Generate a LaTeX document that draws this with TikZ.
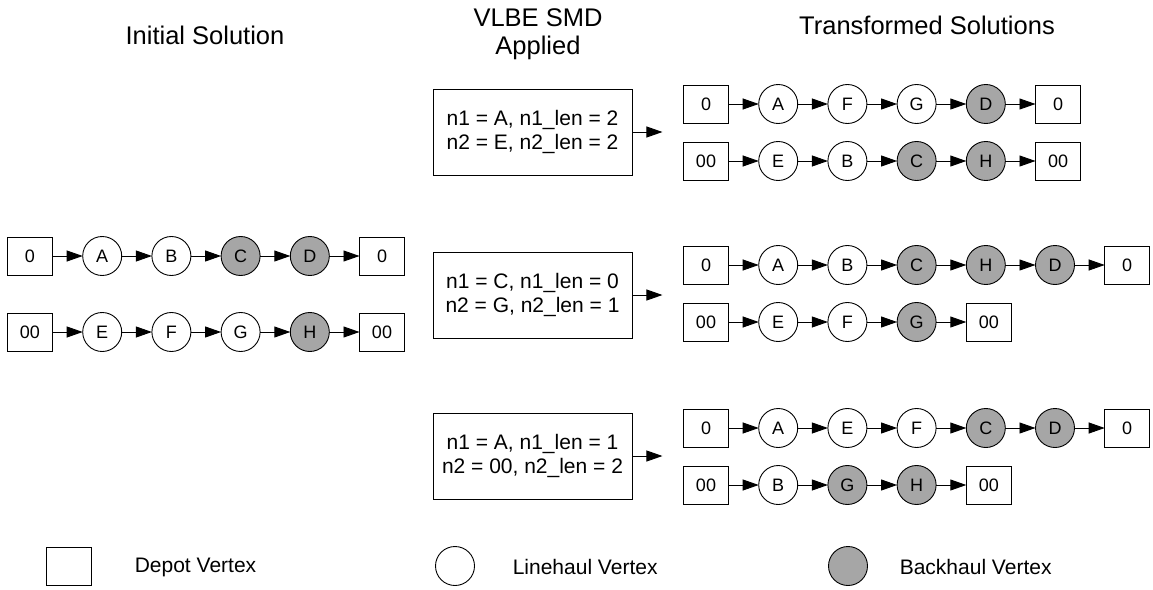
\documentclass[tikz,border=0pt]{standalone}
\usepackage{fontspec}
\setmainfont{Liberation Sans}
\usetikzlibrary{arrows.meta,positioning}
\definecolor{backgray}{RGB}{166,166,166}

\begin{document}
\begin{tikzpicture}[
		x=1pt,y=-1pt,line width=0.9pt,
		node distance=30.2pt,
		depot/.style={draw,rectangle,minimum width=45pt,minimum height=38pt,inner sep=0pt,outer sep=0pt,font=\fontsize{18}{20}\selectfont},
		lhaul/.style={draw,circle,minimum size=39pt,inner sep=0pt,outer sep=0pt,font=\fontsize{18}{20}\selectfont},
		bhaul/.style={lhaul,fill=backgray},
		link/.style={-{Triangle[length=16pt,width=11pt]}},
		smdbox/.style={draw,minimum width=199pt,minimum height=86pt,align=center,font=\fontsize{21}{24}\selectfont},
		heading/.style={align=center,font=\fontsize{25.5}{28}\selectfont},
		legend/.style={anchor=west,font=\fontsize{21}{24}\selectfont}
	]
	\useasboundingbox (0,0) rectangle (1153,589);

	% column headings
	\node[heading] (hinit) at (205,35) {Initial Solution};
	\node[heading] (hsmd) at (538,34) {VLBE SMD\\Applied};
	\node[heading] (htrans) at (927,25) {Transformed Solutions};

	% initial solution, route 0
	\node[depot] (ia0) at (30,256) {0};
	\node[lhaul,right=of ia0] (iaA) {A};
	\node[lhaul,right=of iaA] (iaB) {B};
	\node[bhaul,right=of iaB] (iaC) {C};
	\node[bhaul,right=of iaC] (iaD) {D};
	\node[depot,right=of iaD] (iaZ) {0};
	% initial solution, route 00
	\node[depot] (ib0) at (30,332) {00};
	\node[lhaul,right=of ib0] (ibE) {E};
	\node[lhaul,right=of ibE] (ibF) {F};
	\node[lhaul,right=of ibF] (ibG) {G};
	\node[bhaul,right=of ibG] (ibH) {H};
	\node[depot,right=of ibH] (ibZ) {00};

	\draw (ia0) edge[link] (iaA) (iaA) edge[link] (iaB) (iaB) edge[link] (iaC)
		(iaC) edge[link] (iaD) (iaD) edge[link] (iaZ);
	\draw (ib0) edge[link] (ibE) (ibE) edge[link] (ibF) (ibF) edge[link] (ibG)
		(ibG) edge[link] (ibH) (ibH) edge[link] (ibZ);

	% SMD moves
	\node[smdbox] (m1) at (532.5,132) {n1 = A, n1\_len = 2\\n2 = E, n2\_len = 2};
	\node[smdbox] (m2) at (532.5,295) {n1 = C, n1\_len = 0\\n2 = G, n2\_len = 1};
	\node[smdbox] (m3) at (532.5,456) {n1 = A, n1\_len = 1\\n2 = 00, n2\_len = 2};
	\coordinate (m1e) at ([xshift=30pt]m1.east);
	\coordinate (m2e) at ([xshift=30pt]m2.east);
	\coordinate (m3e) at ([xshift=30pt]m3.east);
	\draw (m1) edge[link] (m1e);
	\draw (m2) edge[link] (m2e);
	\draw (m3) edge[link] (m3e);

	% first move
	\node[depot] (pa0) at (706,104) {0};
	\node[lhaul,right=of pa0] (paA) {A};
	\node[lhaul,right=of paA] (paF) {F};
	\node[lhaul,right=of paF] (paG) {G};
	\node[bhaul,right=of paG] (paD) {D};
	\node[depot,right=of paD] (paZ) {0};
	\node[depot] (pb0) at (706,161) {00};
	\node[lhaul,right=of pb0] (pbE) {E};
	\node[lhaul,right=of pbE] (pbB) {B};
	\node[bhaul,right=of pbB] (pbC) {C};
	\node[bhaul,right=of pbC] (pbH) {H};
	\node[depot,right=of pbH] (pbZ) {00};

	\draw (pa0) edge[link] (paA) (paA) edge[link] (paF) (paF) edge[link] (paG)
		(paG) edge[link] (paD) (paD) edge[link] (paZ);
	\draw (pb0) edge[link] (pbE) (pbE) edge[link] (pbB) (pbB) edge[link] (pbC)
		(pbC) edge[link] (pbH) (pbH) edge[link] (pbZ);

	% second move
	\node[depot] (qa0) at (706,265) {0};
	\node[lhaul,right=of qa0] (qaA) {A};
	\node[lhaul,right=of qaA] (qaB) {B};
	\node[bhaul,right=of qaB] (qaC) {C};
	\node[bhaul,right=of qaC] (qaH) {H};
	\node[bhaul,right=of qaH] (qaD) {D};
	\node[depot,right=of qaD] (qaZ) {0};
	\node[depot] (qb0) at (706,322) {00};
	\node[lhaul,right=of qb0] (qbE) {E};
	\node[lhaul,right=of qbE] (qbF) {F};
	\node[bhaul,right=of qbF] (qbG) {G};
	\node[depot,right=of qbG] (qbZ) {00};

	\draw (qa0) edge[link] (qaA) (qaA) edge[link] (qaB) (qaB) edge[link] (qaC)
		(qaC) edge[link] (qaH) (qaH) edge[link] (qaD) (qaD) edge[link] (qaZ);
	\draw (qb0) edge[link] (qbE) (qbE) edge[link] (qbF) (qbF) edge[link] (qbG)
		(qbG) edge[link] (qbZ);

	% third move
	\node[depot] (ra0) at (706,428) {0};
	\node[lhaul,right=of ra0] (raA) {A};
	\node[lhaul,right=of raA] (raE) {E};
	\node[lhaul,right=of raE] (raF) {F};
	\node[bhaul,right=of raF] (raC) {C};
	\node[bhaul,right=of raC] (raD) {D};
	\node[depot,right=of raD] (raZ) {0};
	\node[depot] (rb0) at (706,485) {00};
	\node[lhaul,right=of rb0] (rbB) {B};
	\node[bhaul,right=of rbB] (rbG) {G};
	\node[bhaul,right=of rbG] (rbH) {H};
	\node[depot,right=of rbH] (rbZ) {00};

	\draw (ra0) edge[link] (raA) (raA) edge[link] (raE) (raE) edge[link] (raF)
		(raF) edge[link] (raC) (raC) edge[link] (raD) (raD) edge[link] (raZ);
	\draw (rb0) edge[link] (rbB) (rbB) edge[link] (rbG) (rbG) edge[link] (rbH)
		(rbH) edge[link] (rbZ);

	% legend
	\node[depot] (kdepot) at (69,566) {};
	\node[legend] (kdepottxt) at (131,567) {Depot Vertex};
	\node[lhaul] (kline) at (455,566) {};
	\node[legend] (klinetxt) at (509,567) {Linehaul Vertex};
	\node[bhaul] (kback) at (848,566) {};
	\node[legend] (kbacktxt) at (896,567) {Backhaul Vertex};

\end{tikzpicture}
\end{document}
